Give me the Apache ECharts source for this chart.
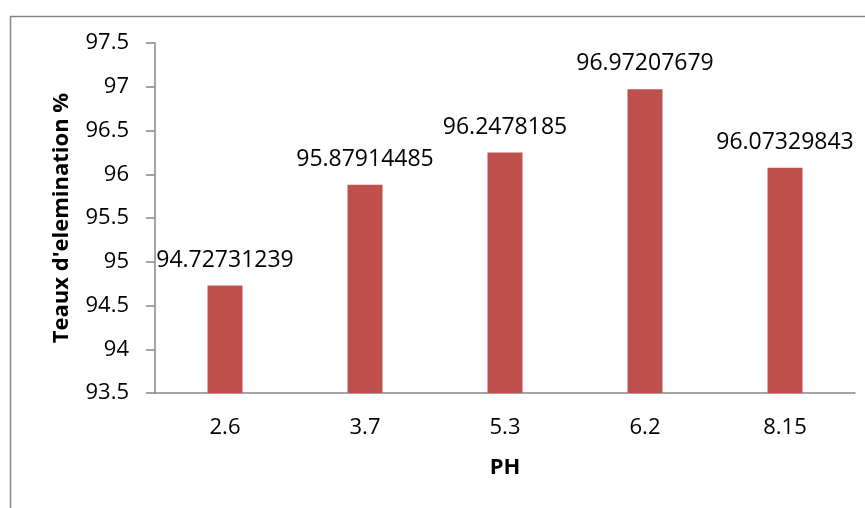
<!DOCTYPE html>
<html>
<head>
<meta charset="utf-8">
<script src="https://cdn.jsdelivr.net/npm/echarts@6/dist/echarts.min.js"></script>
<style>html,body{margin:0;padding:0;background:#fff;}#c{width:865px;height:508px;}</style>
</head>
<body>
<div id="c"></div>
<script>
const categories = ['2.6', '3.7', '5.3', '6.2', '8.15'];
const values = [94.72731239, 95.87914485, 96.2478185, 96.97207679, 96.07329843];
const valueLabels = ['94.72731239', '95.87914485', '96.2478185', '96.97207679', '96.07329843'];
const yTicks = { min: 93.5, max: 97.5, interval: 0.5 };
const xTitle = 'PH';
const yTitle = "Teaux d'elemination %";

const FONT = 'Open Sans';
const chart = echarts.init(document.getElementById('c'), null, { renderer: 'canvas' });
chart.setOption({
  animation: false,
  backgroundColor: '#fff',
  textStyle: { fontFamily: FONT },
  graphic: [{
    type: 'rect', left: 8, top: 14, silent: true,
    shape: { width: 900, height: 600 },
    style: { fill: 'none', stroke: '#868686', lineWidth: 1.5 }
  }],
  grid: { left: 155, right: 10, top: 43, bottom: 115 },
  xAxis: {
    type: 'category', data: categories,
    name: xTitle, nameLocation: 'middle', nameGap: 64,
    nameTextStyle: { fontFamily: FONT, fontSize: 22, fontWeight: 'bold', color: '#000' },
    axisLine: { lineStyle: { color: '#868686', width: 1.5 } },
    axisTick: { show: false },
    axisLabel: { fontFamily: FONT, fontSize: 22, color: '#000', margin: 24 }
  },
  yAxis: {
    type: 'value', min: yTicks.min, max: yTicks.max, interval: yTicks.interval,
    name: yTitle, nameLocation: 'middle', nameGap: 82,
    nameTextStyle: { fontFamily: FONT, fontSize: 22, fontWeight: 'bold', color: '#000' },
    axisLine: { show: true, lineStyle: { color: '#868686', width: 1.5 } },
    axisTick: { show: true, length: 9, lineStyle: { color: '#868686', width: 1.5 } },
    splitLine: { show: false },
    axisLabel: { fontFamily: FONT, fontSize: 22, color: '#000', margin: 26,
      formatter: v => String(Math.round(v * 10) / 10) }
  },
  series: [{
    type: 'bar', data: values, barWidth: 35,
    itemStyle: { color: '#C0504D' },
    label: {
      show: true, position: 'top', distance: 14,
      fontFamily: FONT, fontSize: 23, color: '#000',
      formatter: p => valueLabels[p.dataIndex]
    }
  }]
});
</script>
</body>
</html>
